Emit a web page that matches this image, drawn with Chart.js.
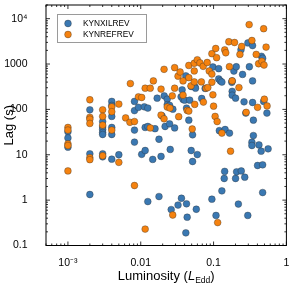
<!DOCTYPE html>
<html>
<head>
<meta charset="utf-8">
<script src="https://cdn.jsdelivr.net/npm/chart.js@4.4.1/dist/chart.umd.min.js"></script>
<style>
  html, body { margin: 0; padding: 0; background: #fff; }
  #box { width: 291px; height: 291px; }
</style>
</head>
<body>
<div id="box"><canvas id="lagChart" width="291" height="291"></canvas></div>
<script>
// KYNXILREV (blue)
const xilrevLum = [0.001, 0.001, 0.001, 0.002, 0.002, 0.002, 0.003, 0.003, 0.003, 0.003, 0.003, 0.003, 0.003,
  0.004, 0.004, 0.004, 0.004, 0.004, 0.004, 0.005, 0.0082, 0.0082, 0.0082, 0.0082, 0.0093, 0.0103,
  0.0112, 0.0115, 0.0115, 0.0125, 0.0125, 0.0125, 0.0146, 0.0157, 0.0168, 0.0178, 0.0178, 0.019, 0.0196,
  0.021, 0.0216, 0.0231, 0.0231, 0.0249, 0.0249, 0.0254, 0.0262, 0.0276, 0.0292, 0.0325, 0.0358, 0.0381,
  0.04, 0.0362, 0.037, 0.0416, 0.0416, 0.0425, 0.0425, 0.0434, 0.0457, 0.047, 0.0493, 0.0515, 0.0515,
  0.0493, 0.0555, 0.0565, 0.0579, 0.0598, 0.0687, 0.0766, 0.0979, 0.0948, 0.108, 0.1175, 0.1175, 0.12,
  0.124, 0.13, 0.13, 0.14, 0.142, 0.144, 0.1655, 0.178, 0.18, 0.18, 0.18, 0.2005, 0.2005, 0.19, 0.205,
  0.207, 0.219, 0.238, 0.24, 0.25, 0.268, 0.262, 0.277, 0.295, 0.296, 0.31, 0.343, 0.343, 0.336, 0.336,
  0.343, 0.352, 0.352, 0.402, 0.42, 0.45, 0.455, 0.472, 0.472, 0.472, 0.487, 0.54, 0.561];
const xilrevLag = [32, 23.5, 14.7, 98, 10.5, 1.33, 54, 41, 36, 31, 28, 10.5, 9,
  150, 122, 70, 40, 28, 8, 10, 150, 94, 35, 19, 111, 10.2,
  114, 40, 12.4, 107, 42, 0.93, 7.9, 37.5, 177, 22, 1.2, 9.2, 72,
  199, 42, 168, 127, 48, 123, 13.1, 0.62, 101, 39, 0.78, 189, 166,
  160, 1.1, 270, 550, 0.19, 0.83, 107, 0.42, 58, 160, 12.4, 27.5, 7.1,
  320, 314, 293, 0.63, 10.1, 174, 290, 860, 1.05, 0.46, 790, 470, 34,
  425, 400, 1.6, 3.0, 4.3, 36, 30, 395, 425, 250, 206, 177, 3.0, 700, 870,
  4.2, 0.82, 2070, 4.4, 590, 3.2, 147, 83, 0.46, 2920, 870, 425, 2550, 18.9, 16,
  142, 58, 26.5, 5.8, 16.5, 12, 1480, 1340, 1.47, 6.0, 150, 83, 13.5];

// KYNREFREV (orange)
const refrevLum = [0.001, 0.001, 0.001, 0.001, 0.001, 0.002, 0.002, 0.002, 0.002, 0.002, 0.002,
  0.003, 0.003, 0.003, 0.003, 0.004, 0.004, 0.004, 0.005, 0.005, 0.0062, 0.0072, 0.0071, 0.0082, 0.0082,
  0.0093, 0.0103, 0.0115, 0.0115, 0.0135, 0.0135, 0.0149, 0.019, 0.019, 0.0209, 0.0209, 0.0231, 0.0252,
  0.0271, 0.0275, 0.0292, 0.0292, 0.0325, 0.0332, 0.0347, 0.0381, 0.0381, 0.0434, 0.0457, 0.0457, 0.0457,
  0.049, 0.0509, 0.0551, 0.0543, 0.0543, 0.0543, 0.0598, 0.065, 0.068, 0.072, 0.0725, 0.0817, 0.079,
  0.0834, 0.0871, 0.0948, 0.0948, 0.0948, 0.0979, 0.1, 0.107, 0.105, 0.11, 0.112, 0.1138, 0.13, 0.1423,
  0.147, 0.165, 0.162, 0.171, 0.18, 0.194, 0.223, 0.23, 0.243, 0.28, 0.308, 0.336, 0.385, 0.402, 0.415,
  0.46, 0.487, 0.493, 0.498, 0.526, 0.543];
const refrevLag = [40, 35, 17.4, 16, 4.4, 163, 67, 61, 49, 8.6, 7.8,
  98, 70, 45, 9.5, 114, 89, 35, 131, 6.8, 65, 371, 52, 54, 2.1,
  189, 183, 293, 0.23, 293, 39, 425, 280, 75, 764, 62, 113, 107,
  199, 0.47, 832, 293, 540, 69, 668, 425, 206, 95, 930, 500, 92,
  330, 37, 129, 1040, 703, 404, 1240, 1060, 404, 890, 145, 1080, 293,
  303, 703, 1690, 600, 397, 210, 118, 2200, 70, 1380, 54, 0.32, 30, 2050,
  1770, 875, 3100, 12, 425, 2980, 303, 1630, 2440, 86, 7390, 3300, 1630, 111, 1015,
  1150, 6000, 950, 168, 2360, 119];

const xTicks = [0.001, 0.01, 0.1, 1];
const xTickLabels = ['10\u207B\u00B3', '0.01', '0.1', '1'];
const yTicks = [0.1, 1, 10, 100, 1000, 10000];
const yTickLabels = ['0.1', '1', '10', '100', '1000', '10\u2074'];

const blue = '#3a78b2';
const orange = '#f5820f';
const fontFam = '"Liberation Sans", Arial, sans-serif';

const toPoints = (xs, ys) => xs.map((v, i) => ({ x: v, y: ys[i] }));

// inward ticks on all four sides + frame
const frameTicks = {
  id: 'frameTicks',
  afterDraw(chart) {
    const { ctx, chartArea: a, scales: { x, y } } = chart;
    ctx.save();
    ctx.strokeStyle = '#000';
    ctx.lineWidth = 0.8;
    const seg = (x1, y1, x2, y2) => { ctx.beginPath(); ctx.moveTo(x1, y1); ctx.lineTo(x2, y2); ctx.stroke(); };
    for (let d = 1e-4; d <= 1; d *= 10) {
      for (let k = 1; k <= 9; k++) {
        const v = k * d;
        if (v < x.min || v > x.max * 1.0001) continue;
        const p = x.getPixelForValue(v);
        const len = k === 1 ? 4 : 2;
        seg(p, a.bottom, p, a.bottom - len);
        seg(p, a.top, p, a.top + len);
      }
    }
    for (let d = 0.1; d <= 1e4; d *= 10) {
      for (let k = 1; k <= 9; k++) {
        const v = k * d;
        if (v < y.min * 0.9999 || v > y.max) continue;
        const p = y.getPixelForValue(v);
        const len = k === 1 ? 4 : 2;
        seg(a.left, p, a.left + len, p);
        seg(a.right, p, a.right - len, p);
      }
    }
    ctx.lineWidth = 1;
    ctx.strokeRect(a.left, a.top, a.right - a.left, a.bottom - a.top);
    ctx.restore();
  }
};

// legend box inside the plot, top left
const innerLegend = {
  id: 'innerLegend',
  afterDraw(chart) {
    const { ctx, chartArea: a } = chart;
    const bx = a.left + 11, by = a.top + 9, bw = 89, bh = 28;
    ctx.save();
    ctx.fillStyle = '#fff';
    ctx.fillRect(bx, by, bw, bh);
    ctx.strokeStyle = '#9a9a9a';
    ctx.lineWidth = 1;
    ctx.strokeRect(bx + 0.5, by + 0.5, bw, bh);
    chart.data.datasets.forEach((ds, i) => {
      const cy = by + 9.5 + i * 11;
      ctx.beginPath();
      ctx.arc(bx + 11, cy, 3.4, 0, Math.PI * 2);
      ctx.fillStyle = ds.backgroundColor;
      ctx.fill();
      ctx.lineWidth = 0.6;
      ctx.strokeStyle = ds.borderColor;
      ctx.stroke();
      ctx.fillStyle = '#000';
      ctx.font = '8.3px ' + fontFam;
      ctx.textBaseline = 'middle';
      ctx.fillText(ds.label, bx + 26, cy + 0.5);
    });
    ctx.restore();
  }
};

// x title with italic L and subscript Edd
const xTitle = {
  id: 'xTitle',
  afterDraw(chart) {
    const { ctx, chartArea: a } = chart;
    const parts = [
      { t: 'Luminosity (', f: '13px ' + fontFam, dy: 0 },
      { t: 'L', f: 'italic 13px ' + fontFam, dy: 0 },
      { t: 'Edd', f: '8.5px ' + fontFam, dy: 2.5 },
      { t: ')', f: '13px ' + fontFam, dy: 0 }
    ];
    ctx.save();
    ctx.fillStyle = '#000';
    ctx.textBaseline = 'alphabetic';
    let w = 0;
    parts.forEach(p => { ctx.font = p.f; p.w = ctx.measureText(p.t).width; w += p.w; });
    let cx = (a.left + a.right) / 2 - w / 2;
    const base = a.bottom + 34.5;
    parts.forEach(p => { ctx.font = p.f; ctx.fillText(p.t, cx, base + p.dy); cx += p.w; });
    ctx.restore();
  }
};

const ctx = document.getElementById('lagChart').getContext('2d');

new Chart(ctx, {
  type: 'scatter',
  data: {
    datasets: [
      {
        label: 'KYNXILREV',
        data: toPoints(xilrevLum, xilrevLag),
        backgroundColor: blue,
        borderColor: 'rgba(45,45,45,0.6)',
        borderWidth: 0.6,
        pointRadius: 3.4,
        order: 2
      },
      {
        label: 'KYNREFREV',
        data: toPoints(refrevLum, refrevLag),
        backgroundColor: orange,
        borderColor: 'rgba(45,45,45,0.6)',
        borderWidth: 0.6,
        pointRadius: 3.4,
        order: 1
      }
    ]
  },
  options: {
    responsive: false,
    animation: false,
    devicePixelRatio: 1,
    layout: { padding: { left: 2, right: 4, top: 5, bottom: 0 } },
    plugins: {
      legend: { display: false },
      tooltip: { enabled: false }
    },
    scales: {
      x: {
        type: 'logarithmic',
        min: 0.0005,
        max: 1,
        afterBuildTicks: s => { s.ticks = xTicks.map(v => ({ value: v })); },
        afterFit: s => { s.height = 45.5; s.paddingLeft = 0; s.paddingRight = 0; },
        grid: { display: false },
        border: { display: false },
        ticks: {
          autoSkip: false,
          maxRotation: 0,
          padding: 3,
          color: '#000',
          font: { family: fontFam, size: 10.5 },
          callback: (v) => xTickLabels[xTicks.indexOf(v)] ?? ''
        }
      },
      y: {
        type: 'logarithmic',
        min: 0.1,
        max: 20000,
        afterBuildTicks: s => { s.ticks = yTicks.map(v => ({ value: v })); },
        afterFit: s => { s.width = 44; s.paddingTop = 0; s.paddingBottom = 0; },
        grid: { display: false },
        border: { display: false },
        title: {
          display: true,
          text: 'Lag (s)',
          color: '#000',
          padding: 0,
          font: { family: fontFam, size: 13 }
        },
        ticks: {
          autoSkip: false,
          padding: 10.5,
          color: '#000',
          font: { family: fontFam, size: 10.5 },
          callback: (v) => yTickLabels[yTicks.indexOf(v)] ?? ''
        }
      }
    }
  },
  plugins: [frameTicks, innerLegend, xTitle]
});
</script>
</body>
</html>
